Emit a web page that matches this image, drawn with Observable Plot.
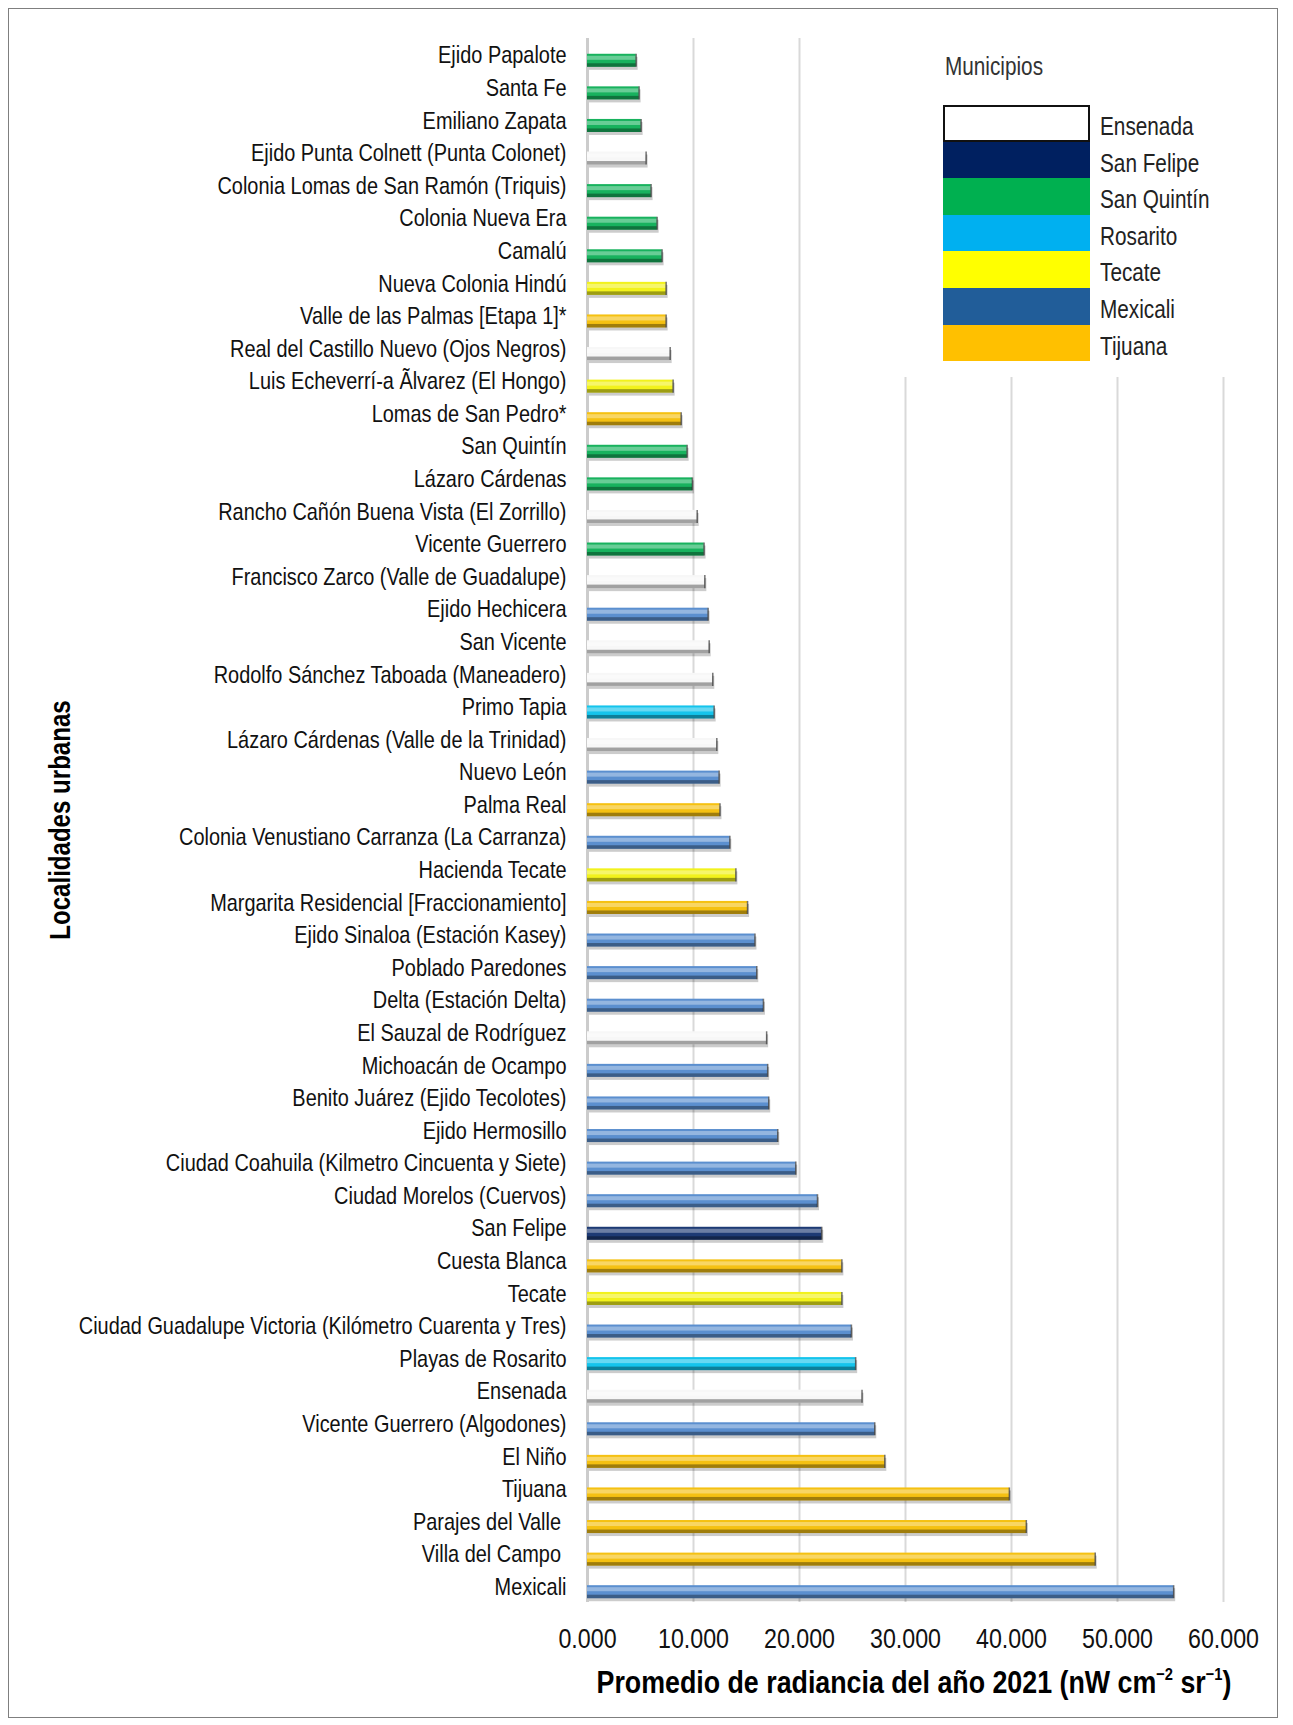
<!DOCTYPE html>
<html>
<head>
<meta charset="utf-8">
<script src="https://cdn.jsdelivr.net/npm/d3@7"></script>
<script src="https://cdn.jsdelivr.net/npm/@observablehq/plot@0.6"></script>
<style>
  html, body { margin: 0; padding: 0; background: #fff; }
  #wrap { position: relative; width: 1293px; height: 1725px; overflow: hidden; font-family: "Liberation Sans", Arial, sans-serif; }
  #chart { position: absolute; left: 0; top: 0; }
  svg text { white-space: pre; }
  #frame { position: absolute; left: 8px; top: 8px; width: 1268px; height: 1708px; border: 1.5px solid #7f7f7f; pointer-events: none; }
  #legendbg { position: absolute; left: 880px; top: 30px; width: 362px; height: 347px; background: #fff; }
  #legtitle { position: absolute; left: 945px; top: 54px; font-size: 25px; line-height: 25px; color: #333; transform: scaleX(0.83); transform-origin: 0 50%; white-space: nowrap; }
  .sw { position: absolute; left: 943px; width: 147px; box-sizing: border-box; }
  .lab { position: absolute; left: 1100px; font-size: 25px; line-height: 25px; color: #222; transform: scaleX(0.83); transform-origin: 0 50%; white-space: nowrap; }
  #ytitle { position: absolute; left: 60px; top: 820px; transform: translate(-50%, -50%) rotate(-90deg) scaleX(0.83); font-weight: bold; font-size: 29px; white-space: nowrap; color: #000; }
  #xtitle { position: absolute; left: 414px; width: 1000px; top: 1667px; text-align: center; font-weight: bold; font-size: 31px; line-height: 31px; white-space: nowrap; color: #000; transform: scaleX(0.864); transform-origin: 50% 50%; }
  #xtitle sup { font-size: 0.55em; vertical-align: 0.75em; line-height: 0; }
</style>
</head>
<body>
<div id="wrap">
  <div id="chart"></div>
  <div id="legendbg"></div>
  <div id="legtitle">Municipios</div>
  <div id="legend"></div>
  <div id="ytitle">Localidades urbanas</div>
  <div id="xtitle">Promedio de radiancia del año 2021 (nW cm<sup>−2</sup> sr<sup>−1</sup>)</div>
  <div id="frame"></div>
</div>
<script>
const localidades = [
  "Ejido Papalote", "Santa Fe", "Emiliano Zapata", "Ejido Punta Colnett (Punta Colonet)",
  "Colonia Lomas de San Ramón (Triquis)", "Colonia Nueva Era", "Camalú", "Nueva Colonia Hindú",
  "Valle de las Palmas [Etapa 1]*", "Real del Castillo Nuevo (Ojos Negros)",
  "Luis Echeverrí-a Ãlvarez (El Hongo)", "Lomas de San Pedro*", "San Quintín", "Lázaro Cárdenas",
  "Rancho Cañón Buena Vista (El Zorrillo)", "Vicente Guerrero", "Francisco Zarco (Valle de Guadalupe)",
  "Ejido Hechicera", "San Vicente", "Rodolfo Sánchez Taboada (Maneadero)", "Primo Tapia",
  "Lázaro Cárdenas (Valle de la Trinidad)", "Nuevo León", "Palma Real",
  "Colonia Venustiano Carranza (La Carranza)", "Hacienda Tecate", "Margarita Residencial [Fraccionamiento]",
  "Ejido Sinaloa (Estación Kasey)", "Poblado Paredones", "Delta (Estación Delta)", "El Sauzal de Rodríguez",
  "Michoacán de Ocampo", "Benito Juárez (Ejido Tecolotes)", "Ejido Hermosillo",
  "Ciudad Coahuila (Kilmetro Cincuenta y Siete)", "Ciudad Morelos (Cuervos)", "San Felipe", "Cuesta Blanca",
  "Tecate", "Ciudad Guadalupe Victoria (Kilómetro Cuarenta y Tres)", "Playas de Rosarito", "Ensenada",
  "Vicente Guerrero (Algodones)", "El Niño", "Tijuana", "Parajes del Valle ", "Villa del Campo ", "Mexicali"
];
const municipioDe = [
  "San Quintín", "San Quintín", "San Quintín", "Ensenada",
  "San Quintín", "San Quintín", "San Quintín", "Tecate",
  "Tijuana", "Ensenada",
  "Tecate", "Tijuana", "San Quintín", "San Quintín",
  "Ensenada", "San Quintín", "Ensenada",
  "Mexicali", "Ensenada", "Ensenada", "Rosarito",
  "Ensenada", "Mexicali", "Tijuana",
  "Mexicali", "Tecate", "Tijuana",
  "Mexicali", "Mexicali", "Mexicali", "Ensenada",
  "Mexicali", "Mexicali", "Mexicali",
  "Mexicali", "Mexicali", "San Felipe", "Tijuana",
  "Tecate", "Mexicali", "Rosarito", "Ensenada",
  "Mexicali", "Tijuana", "Tijuana", "Tijuana", "Tijuana", "Mexicali"
];
const valores = [
  4.59, 4.87, 5.06, 5.53,
  6.0, 6.57, 7.04, 7.42,
  7.42, 7.8,
  8.08, 8.84, 9.4, 9.9,
  10.35, 11.0, 11.07,
  11.38, 11.48, 11.82, 11.95,
  12.2, 12.42, 12.5,
  13.43, 14.0, 15.1,
  15.8, 15.97, 16.6, 16.9,
  17.0, 17.1, 17.95,
  19.65, 21.7, 22.1, 24.0,
  24.0, 24.9, 25.3, 25.9,
  27.1, 28.05, 39.8, 41.4, 47.9, 55.3
];
const municipios = ["Ensenada", "San Felipe", "San Quintín", "Rosarito", "Tecate", "Mexicali", "Tijuana"];
const coloresBarra = ["#f7f7f7", "#1d3a74", "#18b25e", "#14c4ec", "#f2f21c", "#5b8fcf", "#f5c112"];
const coloresLeyenda = ["#ffffff", "#002060", "#00b050", "#00b0f0", "#ffff00", "#215d99", "#ffc000"];
const ticksX = [0, 10, 20, 30, 40, 50, 60];

const data = localidades.map((l, i) => ({localidad: l, municipio: municipioDe[i], valor: valores[i]}));

const chart = Plot.plot({
  width: 1293,
  height: 1725,
  marginLeft: 587,
  marginRight: 70,
  marginTop: 38,
  marginBottom: 123,
  style: {fontFamily: '"Liberation Sans", Arial, sans-serif', background: "transparent", color: "#111"},
  x: {domain: [0, 60], label: null},
  y: {domain: localidades, paddingInner: 0.6, paddingOuter: 0.3, round: false, insetTop: 6, insetBottom: -6, label: null},
  color: {domain: municipios, range: coloresBarra},
  marks: [
    Plot.ruleX(ticksX.slice(1), {stroke: "#d9d9d9", strokeWidth: 2}),
    Plot.ruleX([0], {stroke: "#cccccc", strokeWidth: 3}),
    Plot.barX(data, {x: "valor", y: "localidad", fill: "#000", fillOpacity: 0.2, dx: 2, dy: 3}),
    Plot.barX(data, {x: "valor", y: "localidad", fill: "municipio"}),
    Plot.barX(data, {x: "valor", y: "localidad", fill: "#fff", fillOpacity: 0.35, insetTop: 2, insetBottom: 7}),
    Plot.barX(data, {x: "valor", y: "localidad", fill: "#000", fillOpacity: 0.35, insetTop: 9.5}),
    Plot.tickX(data, {x: "valor", y: "localidad", stroke: "#000", strokeOpacity: 0.55, strokeWidth: 1.5}),
    Plot.axisY({tickSize: 0, tickPadding: 21, fontSize: 24, dy: -5, fill: "#111"}),
    Plot.axisX({ticks: ticksX, tickFormat: d3.format(".3f"), tickSize: 0, tickPadding: 26, fontSize: 28, fill: "#111"})
  ]
});
document.getElementById("chart").appendChild(chart);

// condense axis text horizontally (narrow typeface look)
chart.querySelectorAll("text").forEach(t => {
  const tr = t.getAttribute("transform") || "";
  const x = +(t.getAttribute("x") || 0);
  t.setAttribute("x", 0);
  t.setAttribute("transform", `${tr} translate(${x},0) scale(0.83,1)`);
});

// Legend built from the municipio arrays
const legend = document.getElementById("legend");
const swTop = 105, swH = 36.6;
municipios.forEach((m, i) => {
  const sw = document.createElement("div");
  sw.className = "sw";
  sw.style.top = (swTop + i * swH) + "px";
  sw.style.height = swH + "px";
  sw.style.background = coloresLeyenda[i];
  if (i === 0) sw.style.border = "2px solid #111";
  legend.appendChild(sw);
  const lab = document.createElement("div");
  lab.className = "lab";
  lab.style.top = (swTop + i * swH + 9) + "px";
  lab.textContent = m;
  legend.appendChild(lab);
});
</script>
</body>
</html>
